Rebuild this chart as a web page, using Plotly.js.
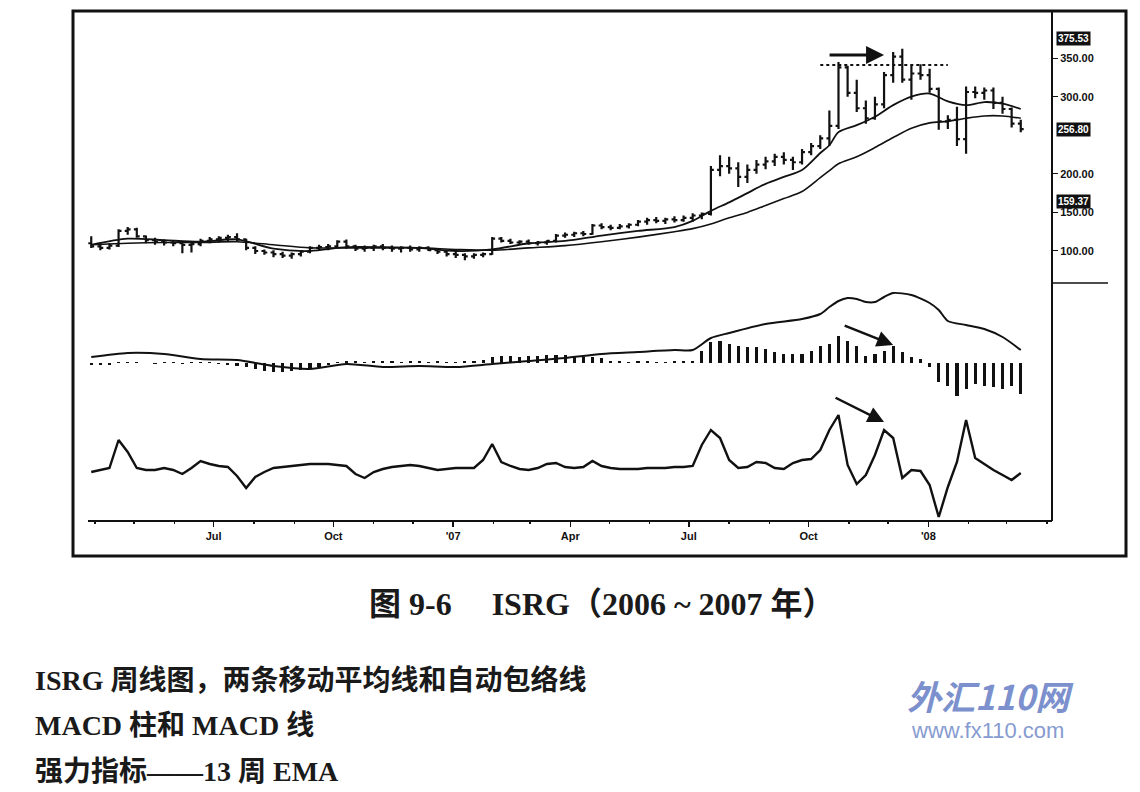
<!DOCTYPE html>
<html>
<head>
<meta charset="utf-8">
<script src="https://cdn.plot.ly/plotly-3.0.1.min.js"></script>
<style>
html,body{margin:0;padding:0;background:#fff;}
#chart{width:1140px;height:792px;}
</style>
</head>
<body>
<div id="chart"></div>
<script>
// ---------- data (weekly bars, ISRG 2006-2008) ----------
const weekStart = '2006-03-29';
const opens  = [110,106,104,107,126,128,119,114,112,111,110,108,109,113,115,117,118,115,104,100,98,96,94,96,99,104,105,106,112,106,103,104,106,104,103,104,102,104,101,99,96,95,93,95,96,116,113,111,112,110,111,113,120,121,123,122,133,131,130,132,134,138,140,139,141,140,143,146,148,205,210,207,196,205,212,216,222,218,215,228,236,246,262,338,305,285,272,290,328,352,322,330,328,310,268,270,245,306,305,308,292,284,265];
const highs  = [119,110,110,128,131,130,120,117,115,114,113,111,116,118,119,121,123,116,106,102,101,99,98,101,106,108,109,114,115,108,107,108,109,107,106,107,106,106,104,101,99,97,97,98,118,118,116,114,115,113,114,122,124,125,126,135,136,134,135,136,140,143,144,143,145,146,149,150,210,224,222,215,212,218,222,226,228,222,232,240,250,282,345,340,322,295,300,332,358,362,340,342,336,312,276,287,313,313,312,312,300,286,270];
const lows   = [104,101,102,105,121,117,110,108,107,106,97,98,106,110,111,112,113,101,96,95,92,91,90,93,97,100,101,104,103,100,99,100,101,99,98,99,99,100,96,93,91,88,90,92,95,111,109,108,108,107,108,111,117,118,119,121,128,127,128,129,132,134,136,135,137,138,138,141,146,197,200,183,188,200,206,210,212,205,212,224,232,236,258,300,280,265,270,285,318,318,296,322,305,257,258,236,226,298,296,284,278,260,254];
const closes = [106,104,107,126,128,119,114,112,111,110,108,109,113,115,117,118,115,104,100,98,96,94,96,99,104,105,106,112,106,103,104,106,104,103,104,102,104,101,99,96,95,93,95,96,116,113,111,112,110,111,113,120,121,123,122,133,131,130,132,134,138,140,139,141,140,143,146,148,205,210,207,196,205,212,216,222,218,215,228,236,246,262,338,305,285,272,290,328,352,322,330,328,310,268,270,245,306,305,308,292,284,265,258];

// moving averages, read at selected weeks
const maWeeks = [0,4,8,12,16,20,24,28,32,36,40,44,48,52,56,60,64,66,68,70,72,74,76,78,80,81,82,84,86,88,90,92,94,96,98,100,102];
const emaFast = [108,116,114,112,115,103,100,105,105,104,100,102,110,113,120,126,131,139,152,163,175,187,196,205,227,237,254,263,274,289,300,304,294,289,293,291,284];
const emaSlow = [108,110,111,111,112,108,104,104,104,104,102,101,104,107,112,118,125,129,135,143,150,159,168,177,195,204,213,222,234,247,259,266,268,272,275,275,272];

// MACD line, read at selected weeks
const macdWeeks = [0,4,8,12,16,20,24,28,32,36,40,44,48,52,56,60,64,66,68,70,74,78,80,81,82,83,84,85,86,87,88,90,92,93,94,96,98,100,102];
const macdLine  = [6,10,9,4,3,-3,-6,-1,-4,-3,-4,-1,2,5,9,11,13,13,25,30,39,44,49,56,62,65,64,61,61,66,70,68,60,53,42,38,34,26,13];

// MACD histogram, one value per week
const macdHist = [-2,-2,-2,1,1,1,0,-1,1,1,-1,1,1,1,-1,-2,-3,-4,-6,-8,-9,-9,-8,-7,-6,-4,-2,1,2,2,1,2,2,2,1,2,2,1,2,1,1,2,2,3,6,7,7,6,7,7,8,8,8,7,6,6,5,2,2,1,2,2,1,1,2,2,2,12,21,22,19,17,16,16,14,11,9,9,9,12,17,19,27,22,17,7,9,12,17,11,6,4,-4,-19,-23,-33,-26,-21,-23,-24,-26,-23,-31];

// Force index, 13-week EMA, one value per week
const forceIdx = [-4,-2,0,28,16,0,-2,-2,0,-2,-6,0,7,4,2,1,-8,-20,-9,-4,0,1,2,3,4,4,4,3,2,-6,-10,-4,-1,1,2,3,2,0,-2,-1,0,0,0,8,24,6,2,-1,-2,0,4,5,1,0,1,7,2,0,-1,-1,-1,0,0,0,1,1,2,23,38,30,8,0,1,6,5,0,-1,5,8,9,18,38,53,3,-16,-7,13,38,30,-10,-2,-3,-17,-49,-19,6,48,10,4,-2,-7,-12,-5];

const tickDates  = ['2006-07-01','2006-10-01','2007-01-01','2007-04-01','2007-07-01','2007-10-01','2008-01-01'];
const tickLabels = ['Jul','Oct',"'07",'Apr','Jul','Oct',"'08"];
const priceTicks = [100,150,200,300,350];
const priceTags  = [375.53, 256.80, 159.37];
const resistance = 341;

// ---------- build ----------
const dayMs = 86400000;
const t0 = Date.parse(weekStart + 'T00:00:00Z');
const dates = closes.map((_, i) => new Date(t0 + i * 7 * dayMs).toISOString().slice(0, 10));
const pick = idx => idx.map(i => dates[i]);

const traces = [
  {type:'ohlc', x:dates, open:opens, high:highs, low:lows, close:closes,
   xaxis:'x', yaxis:'y', tickwidth:0.32, hoverinfo:'skip',
   increasing:{line:{color:'#111', width:2.2}}, decreasing:{line:{color:'#111', width:2.2}}},
  {type:'scatter', mode:'lines', x:pick(maWeeks), y:emaFast, xaxis:'x', yaxis:'y',
   line:{color:'#111', width:1.8, shape:'spline', smoothing:0.8}, hoverinfo:'skip'},
  {type:'scatter', mode:'lines', x:pick(maWeeks), y:emaSlow, xaxis:'x', yaxis:'y',
   line:{color:'#111', width:1.6, shape:'spline', smoothing:0.8}, hoverinfo:'skip'},
  {type:'bar', x:dates, y:macdHist, xaxis:'x', yaxis:'y2', width:2.4*dayMs,
   marker:{color:'#111', line:{width:0}}, hoverinfo:'skip'},
  {type:'scatter', mode:'lines', x:pick(macdWeeks), y:macdLine, xaxis:'x', yaxis:'y2',
   line:{color:'#111', width:2, shape:'spline', smoothing:0.7}, hoverinfo:'skip'},
  {type:'scatter', mode:'lines', x:dates, y:forceIdx, xaxis:'x', yaxis:'y3',
   line:{color:'#111', width:2.4}, hoverinfo:'skip'}
];

const W = 979, H = 510; // plot area pixel size
const px = p => (p - 73) / W;
const py = p => (521 - p) / H;

const axFont = {family:'Liberation Sans, Arial, sans-serif', size:11, color:'#111', weight:'bold'};
const capFont = {family:"'Liberation Serif', 'Noto Sans CJK SC', serif", color:'#1a1a1a'};

const annotations = [
  // arrows
  {xref:'x', yref:'y', x:dates[87], y:354, ax:-56, ay:0, showarrow:true, arrowhead:2, arrowsize:1.2, arrowwidth:3, arrowcolor:'#111', text:''},
  {xref:'x', yref:'y2', x:dates[88], y:18, ax:-50, ay:-20, showarrow:true, arrowhead:2, arrowsize:1.3, arrowwidth:2.5, arrowcolor:'#111', text:''},
  {xref:'x', yref:'y3', x:dates[87], y:46, ax:-50, ay:-25, showarrow:true, arrowhead:2, arrowsize:1.3, arrowwidth:2.5, arrowcolor:'#111', text:''},
  // captions
  {xref:'paper', yref:'paper', x:px(602), y:py(604), xanchor:'center', yanchor:'middle', showarrow:false,
   text:'图 9-6　 ISRG（2006 ~ 2007 年）', font:Object.assign({size:32, weight:'bold'}, capFont)},
  {xref:'paper', yref:'paper', x:px(33), y:py(680), xanchor:'left', yanchor:'middle', showarrow:false,
   text:'ISRG 周线图，两条移动平均线和自动包络线', font:Object.assign({size:28, weight:'bold'}, capFont)},
  {xref:'paper', yref:'paper', x:px(33), y:py(725), xanchor:'left', yanchor:'middle', showarrow:false,
   text:'MACD 柱和 MACD 线', font:Object.assign({size:28, weight:'bold'}, capFont)},
  {xref:'paper', yref:'paper', x:px(33), y:py(771), xanchor:'left', yanchor:'middle', showarrow:false,
   text:'强力指标——13 周 EMA', font:Object.assign({size:28, weight:'bold'}, capFont)},
  // watermark
  {xref:'paper', yref:'paper', x:px(990), y:py(695), xanchor:'center', yanchor:'middle', showarrow:false,
   text:'<i>外汇110网</i>', font:{family:"'Noto Sans CJK SC', sans-serif", size:34, color:'#7b90cc', weight:'bold'}},
  {xref:'paper', yref:'paper', x:px(987), y:py(731), xanchor:'center', yanchor:'middle', showarrow:false,
   text:'www.fx110.com', font:{family:'Liberation Sans, Arial, sans-serif', size:22, color:'#869bd0'}}
];
priceTags.forEach((v, k) => annotations.push({
  xref:'paper', yref:'y', x:px(1056), y:v, xanchor:'left', yanchor:'middle', showarrow:false,
  yshift: k === 2 ? 4 : 0,
  text:v.toFixed(2), bgcolor:'#111', borderpad:1,
  font:{family:'Liberation Sans, Arial, sans-serif', size:10, color:'#fff', weight:'bold'}
}));

const shapes = [
  {type:'rect', xref:'paper', yref:'paper', x0:0, x1:px(1126), y0:py(556), y1:1, line:{color:'#111', width:3}},
  {type:'line', xref:'paper', yref:'paper', x0:1, x1:1, y0:0, y1:1, line:{color:'#111', width:2}},
  {type:'line', xref:'paper', yref:'paper', x0:px(88), x1:1, y0:0, y1:0, line:{color:'#111', width:2}},
  {type:'line', xref:'paper', yref:'paper', x0:1, x1:px(1108), y0:py(283), y1:py(283), line:{color:'#111', width:1.5}},
  {type:'line', xref:'x', yref:'y', x0:dates[80], x1:dates[94], y0:resistance, y1:resistance, line:{color:'#111', width:2, dash:'dot'}}
];

const layout = {
  width:1140, height:792,
  margin:{l:73, r:88, t:11, b:271, pad:0},
  paper_bgcolor:'#fff', plot_bgcolor:'#fff',
  showlegend:false, bargap:0,
  xaxis:{type:'date', anchor:'y3', range:['2006-03-15','2008-04-05'],
         tickvals:tickDates, ticktext:tickLabels, ticks:'outside', ticklen:5, tickwidth:1.5, tickcolor:'#111',
         minor:{ticks:'outside', ticklen:2, tickcolor:'#111', dtick:'M1', showgrid:false},
         showgrid:false, zeroline:false, showline:false, tickfont:axFont,
         rangeslider:{visible:false}, fixedrange:true},
  yaxis:{domain:[py(283), 1], range:[58.5, 411], side:'right', anchor:'x',
         tickvals:priceTicks, tickformat:'.2f', ticks:'outside', ticklen:5, tickcolor:'#111',
         showgrid:false, zeroline:false, showline:false, tickfont:axFont},
  yaxis2:{domain:[py(400), py(283)], range:[-37, 80], anchor:'x', visible:false},
  yaxis3:{domain:[0, py(400)], range:[-53, 68], anchor:'x', visible:false},
  annotations:annotations, shapes:shapes
};

Plotly.newPlot('chart', traces, layout, {staticPlot:true, displayModeBar:false});
</script>
</body>
</html>
